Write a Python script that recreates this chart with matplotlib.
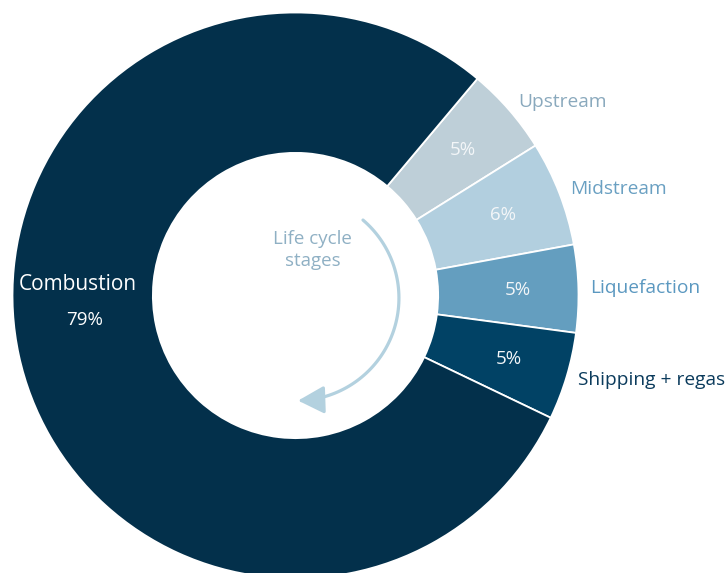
import numpy as np
import matplotlib
matplotlib.use('Agg')
import matplotlib.pyplot as plt
from matplotlib.patches import FancyArrowPatch, ArrowStyle
from matplotlib.path import Path

# ------------------------------------------------------ #
# Data
# ------------------------------------------------------ #
stages = ['Upstream', 'Midstream', 'Liquefaction', 'Shipping + regas', 'Combustion']
shares = [5, 6, 5, 5, 79]
wedge_colors = ['#becfd8', '#b2cfdf', '#649ebf', '#014265', '#03304b']
label_colors = ['#8aa9bd', '#6aa0c2', '#5b98c0', '#0b3b5c', '#ffffff']

plt.rcParams['font.family'] = ['Open Sans', 'DejaVu Sans']

# ------------------------------------------------------ #
# Donut
# ------------------------------------------------------ #
fig = plt.figure(figsize=(7.28, 5.73), dpi=100)
ax = fig.add_axes([0, 0, 1, 1])

wedges, _ = ax.pie(shares, colors=wedge_colors, startangle=50, counterclock=False,
                   radius=1.0,
                   wedgeprops=dict(width=0.496, edgecolor='white', linewidth=1.3))

for w, name, val, col in zip(wedges, stages, shares, label_colors):
    mid = np.deg2rad((w.theta1 + w.theta2) / 2)
    if name == 'Combustion':
        continue
    ax.text(0.785 * np.cos(mid), 0.785 * np.sin(mid), f'{val}%', color='#f3f6f8',
            fontsize=13.5, ha='center', va='center')
    ax.text(1.042 * np.cos(mid), 1.042 * np.sin(mid), name, color=col,
            fontsize=13.8, ha='left', va='center')

# big segment label sits on the left side of the ring
ax.text(-0.77, 0.04, 'Combustion', color='white', fontsize=15, ha='center', va='center')
ax.text(-0.745, -0.087, f'{shares[-1]}%', color='white', fontsize=13.5, ha='center', va='center')

# ------------------------------------------------------ #
# Centre note + curved arrow
# ------------------------------------------------------ #
ax.text(0.06, 0.16, 'Life cycle\nstages', color='#8fb0c4', fontsize=13.5,
        ha='center', va='center', linespacing=1.25)

t = np.deg2rad(np.linspace(49.5, -89, 80))
arc = np.column_stack([0.003 + 0.3625 * np.cos(t), -0.009 + 0.3625 * np.sin(t)])
arrow = FancyArrowPatch(path=Path(arc),
                        arrowstyle=ArrowStyle('-|>', head_length=16, head_width=8.5),
                        color='#b3d1df', linewidth=2.3)
ax.add_patch(arrow)

ax.set_xlim(-295.5 / 283, (728 - 295.5) / 283)
ax.set_ylim(-(573 - 295.5) / 283, 295.5 / 283)
ax.set_aspect('auto')
ax.axis('off')

fig.savefig('out.png', dpi=100, facecolor='white')
